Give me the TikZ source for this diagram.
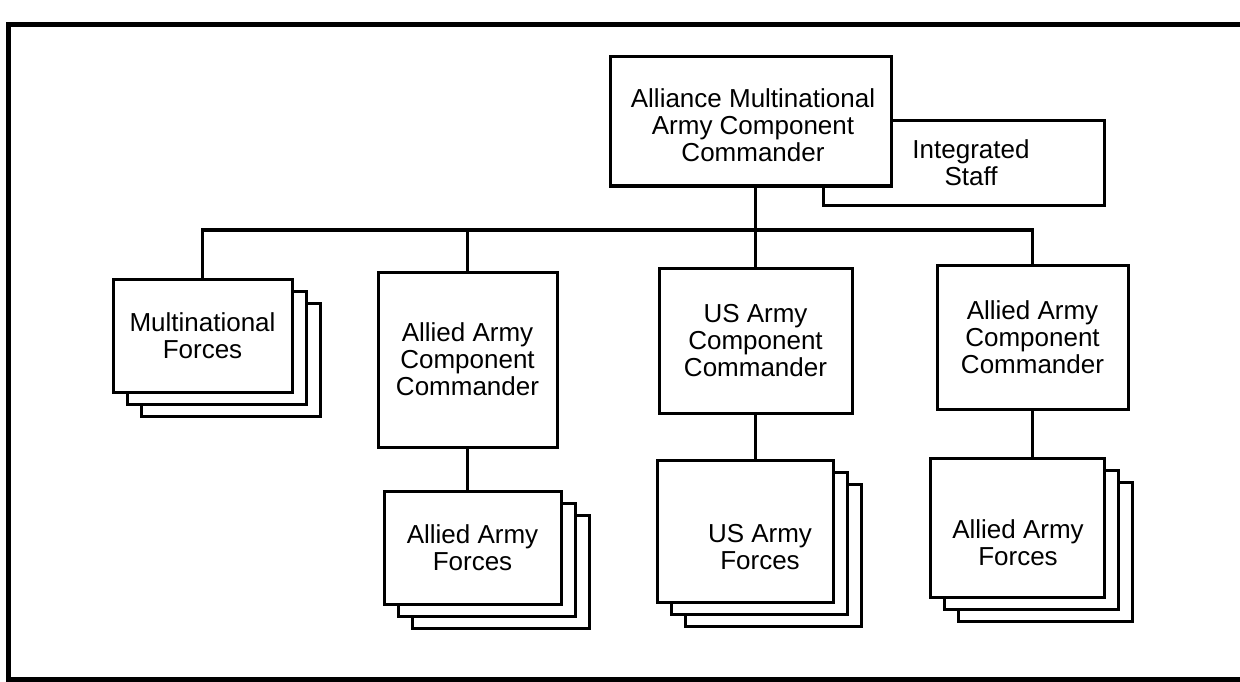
\documentclass[tikz,border=0pt]{standalone}
\usepackage{fontspec}
\setmainfont{Liberation Sans}
\begin{document}
\begin{tikzpicture}[x=1pt,y=-1pt,
  box/.style={draw=black,fill=white,line width=3pt,inner sep=0pt,align=center,font=\fontsize{26}{27}\selectfont},
  txt/.style={inner sep=0pt,align=center,font=\fontsize{26}{27}\selectfont},
  layer/.style={draw=black,fill=white,line width=3pt},
  conn/.style={draw=black,line width=3.5pt},
  frame/.style={draw=black,line width=5pt}]
\useasboundingbox (0,0) rectangle (1240,682);
\newcommand\backlayers[4]{%
  \draw[layer] (#1+28,#2+24) rectangle (#3+28,#4+24);
  \draw[layer] (#1+14,#2+12) rectangle (#3+14,#4+12);}
% frame
\draw[frame] (1250,25) -- (8,25) -- (8,679) -- (1250,679);
% top
\node[box,minimum width=281pt,minimum height=84pt] (staff) at (963.5,163) {};
\node[txt] (stafft) at (971,163) {Integrated\\Staff};
\node[box,minimum width=281pt,minimum height=129pt] (top) at (750.5,121.5) {};
\node[txt] (topt) at (753,125) {Alliance Multinational\\Army Component\\Commander};
% commanders
\node[box,minimum width=179pt,minimum height=175pt] (accl) at (467.5,359.5) {Allied Army\\Component\\Commander};
\node[box,minimum width=193pt,minimum height=145pt] (uscc) at (755.5,340.5) {US Army\\Component\\Commander};
\node[box,minimum width=191pt,minimum height=144pt] (accr) at (1032.5,337) {Allied Army\\Component\\Commander};
% forces stacks
\backlayers{113}{279}{292}{392}
\node[box,minimum width=179pt,minimum height=113pt] (mnf) at (202.5,335.5) {Multinational\\Forces};
\backlayers{384}{491}{561}{604}
\node[box,minimum width=177pt,minimum height=113pt] (afl) at (472.5,547.5) {Allied Army\\Forces};
\backlayers{657}{460}{833}{602}
\node[box,minimum width=176pt,minimum height=142pt] (usf) at (745,531) {};
\node[txt] (usft) at (760,547) {US Army\\Forces};
\backlayers{930}{458}{1104}{597}
\node[box,minimum width=174pt,minimum height=139pt] (afr) at (1017,527.5) {};
\node[txt] (afrt) at (1018,543) {Allied Army\\Forces};
% connectors
\coordinate (busl) at (202.5,230);
\coordinate (busr) at (1032.5,230);
\draw[conn] (top.south -| uscc.north) -- (uscc.north);
\draw[conn] (mnf.north) -- (mnf.north |- busl) -- (busr) -- (accr.north);
\draw[conn] (accl.north |- busl) -- (accl.north);
\draw[conn] (accl.south) -- (accl.south |- afl.north);
\draw[conn] (uscc.south) -- (uscc.south |- usf.north);
\draw[conn] (accr.south) -- (accr.south |- afr.north);
\end{tikzpicture}
\end{document}
